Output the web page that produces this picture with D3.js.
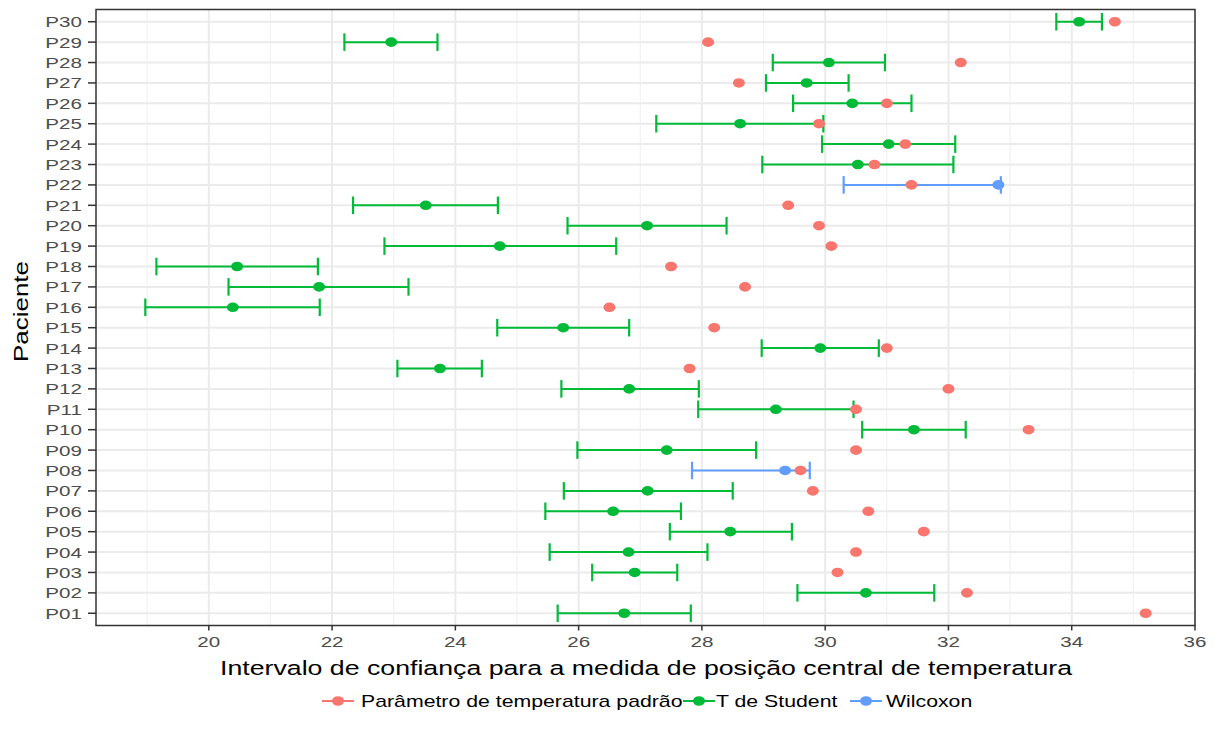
<!DOCTYPE html>
<html>
<head>
<meta charset="utf-8">
<script src="https://cdn.jsdelivr.net/npm/d3@7"></script>
<style>
  body { margin: 0; background: #fff; }
  text { font-family: "Liberation Sans", Arial, sans-serif; }
</style>
</head>
<body>
<svg id="chart"></svg>
<script>
// Data
const patients = ["P01","P02","P03","P04","P05","P06","P07","P08","P09","P10",
  "P11","P12","P13","P14","P15","P16","P17","P18","P19","P20",
  "P21","P22","P23","P24","P25","P26","P27","P28","P29","P30"];
const method = ["T","T","T","T","T","T","T","W","T","T",
  "T","T","T","T","T","T","T","T","T","T",
  "T","W","T","T","T","T","T","T","T","T"];
const lower = [25.66,29.55,26.22,25.53,27.48,25.46,25.76,27.84,25.98,30.60,
  27.94,25.72,23.06,28.97,24.68,18.97,20.32,19.15,22.85,25.82,
  22.34,30.30,28.98,29.95,27.26,29.48,29.04,29.15,22.20,33.75];
const center = [26.74,30.66,26.91,26.81,28.46,26.56,27.12,29.35,27.43,31.44,
  29.20,26.82,23.75,29.92,25.75,20.39,21.79,20.46,24.72,27.11,
  23.52,32.81,30.53,31.03,28.62,30.44,29.70,30.06,22.96,34.12];
const upper = [27.82,31.77,27.60,28.09,29.46,27.66,28.50,29.75,28.88,32.28,
  30.46,27.95,24.43,30.87,26.82,21.80,23.24,21.77,26.61,28.40,
  24.69,32.85,32.08,32.11,29.97,31.40,30.38,30.97,23.71,34.49];
const standard = [35.2,32.3,30.2,30.5,31.6,30.7,29.8,29.6,30.5,33.3,
  30.5,32.0,27.8,31.0,28.2,26.5,28.7,27.5,30.1,29.9,
  29.4,31.4,30.8,31.3,29.9,31.0,28.6,32.2,28.1,34.7];
const xTicks = [20,22,24,26,28,30,32,34,36];
const legendLabels = ["Parâmetro de temperatura padrão","T de Student","Wilcoxon"];
const colors = { S: "#F8766D", T: "#00BA38", W: "#619CFF" };

// Configuration
const W = 1218, H = 738;
const panel = { left: 96, right: 1195, top: 9.5, bottom: 625.5 };
const sx = 1.33; // text in the reference is stretched horizontally

const svg = d3.select("#chart").attr("width", W).attr("height", H);

const rows = patients.map((p, i) => ({
  p, m: method[i], lo: lower[i], c: center[i], hi: upper[i], s: standard[i]
}));

// Scales
const x = d3.scaleLinear().domain([18.17, 36.0]).range([panel.left, panel.right]);
const y = d3.scalePoint().domain(patients).range([panel.bottom, panel.top]).padding(0.6);
const step = y.step();

function sText(g, tx, ty, str, anchor, k = sx) {
  return g.append("text")
    .attr("transform", `translate(${tx},${ty}) scale(${k},1)`)
    .attr("text-anchor", anchor)
    .text(str);
}

// Gridlines
const grid = svg.append("g");
d3.range(19, 36, 2).forEach(v => {
  grid.append("line").attr("x1", x(v)).attr("x2", x(v))
    .attr("y1", panel.top).attr("y2", panel.bottom)
    .attr("stroke", "#F2F2F2").attr("stroke-width", 1.2);
});
xTicks.forEach(v => {
  grid.append("line").attr("x1", x(v)).attr("x2", x(v))
    .attr("y1", panel.top).attr("y2", panel.bottom)
    .attr("stroke", "#EBEBEB").attr("stroke-width", 2);
});
patients.forEach(p => {
  grid.append("line").attr("x1", panel.left).attr("x2", panel.right)
    .attr("y1", y(p)).attr("y2", y(p))
    .attr("stroke", "#EBEBEB").attr("stroke-width", 2);
});

// Error bars
const bars = svg.append("g");
const capH = step * 0.43;
rows.forEach(d => {
  const col = colors[d.m];
  const yy = y(d.p);
  bars.append("line").attr("x1", x(d.lo)).attr("x2", x(d.hi))
    .attr("y1", yy).attr("y2", yy).attr("stroke", col).attr("stroke-width", 2);
  [d.lo, d.hi].forEach(v => {
    bars.append("line").attr("x1", x(v)).attr("x2", x(v))
      .attr("y1", yy - capH).attr("y2", yy + capH)
      .attr("stroke", col).attr("stroke-width", 2.2);
  });
});

// Center points
svg.append("g").selectAll("ellipse").data(rows).join("ellipse")
  .attr("cx", d => x(d.c)).attr("cy", d => y(d.p))
  .attr("rx", 6).attr("ry", 4.8)
  .attr("fill", d => colors[d.m]);

// Standard parameter points
svg.append("g").selectAll("ellipse").data(rows).join("ellipse")
  .attr("cx", d => x(d.s)).attr("cy", d => y(d.p))
  .attr("rx", 6).attr("ry", 4.8)
  .attr("fill", colors.S);

// Panel border
svg.append("rect")
  .attr("x", panel.left).attr("y", panel.top)
  .attr("width", panel.right - panel.left).attr("height", panel.bottom - panel.top)
  .attr("fill", "none").attr("stroke", "#333333").attr("stroke-width", 1.5);

// Axes
const axisG = svg.append("g").attr("fill", "#4D4D4D").style("font-size", "15.5px");
xTicks.forEach(v => {
  svg.append("line").attr("x1", x(v)).attr("x2", x(v))
    .attr("y1", panel.bottom).attr("y2", panel.bottom + 5)
    .attr("stroke", "#333333").attr("stroke-width", 1.5);
  sText(axisG, x(v), panel.bottom + 21, String(v), "middle");
});
patients.forEach(p => {
  svg.append("line").attr("x1", panel.left - 8).attr("x2", panel.left)
    .attr("y1", y(p)).attr("y2", y(p))
    .attr("stroke", "#333333").attr("stroke-width", 1.5);
  sText(axisG, panel.left - 14, y(p) + 5.5, p, "end");
});

// Axis titles
const titleG = svg.append("g").attr("fill", "#000").style("font-size", "19.5px");
sText(titleG, 646, 675, "Intervalo de confiança para a medida de posição central de temperatura", "middle", 1.37);
svg.append("text")
  .attr("transform", `translate(28,${(panel.top + panel.bottom) / 2 - 6}) rotate(-90) scale(${sx},1)`)
  .attr("text-anchor", "middle")
  .style("font-size", "19.5px")
  .text("Paciente");

// Legend
const legend = svg.append("g").style("font-size", "16px").attr("fill", "#000");
const legendKeys = [colors.S, colors.T, colors.W];
const keyX = [322, 683, 850];
const textX = [361, 716, 886];
legendKeys.forEach((c, i) => {
  const ly = 701;
  legend.append("line").attr("x1", keyX[i]).attr("x2", keyX[i] + 32)
    .attr("y1", ly).attr("y2", ly).attr("stroke", c).attr("stroke-width", 2);
  legend.append("ellipse").attr("cx", keyX[i] + 16).attr("cy", ly)
    .attr("rx", 6).attr("ry", 4.8).attr("fill", c);
  sText(legend, textX[i], ly + 6, legendLabels[i], "start", sx);
});
</script>
</body>
</html>
